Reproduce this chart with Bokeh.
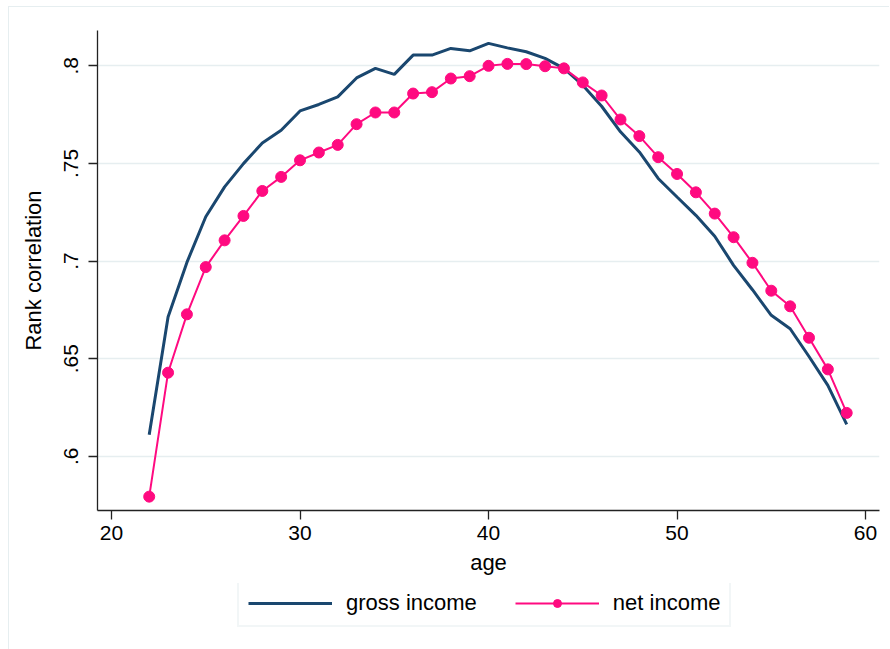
from bokeh.plotting import figure
from bokeh.models import FixedTicker, Legend, LegendItem, Range1d
from bokeh.layouts import column
from bokeh.embed import file_html
from bokeh.resources import INLINE

ages = [22, 23, 24, 25, 26, 27, 28, 29, 30, 31, 32, 33, 34, 35, 36, 37, 38, 39, 40,
        41, 42, 43, 44, 45, 46, 47, 48, 49, 50, 51, 52, 53, 54, 55, 56, 57, 58, 59]
gross_income = [0.6110, 0.6713, 0.6993, 0.7227, 0.7380, 0.7499, 0.7605, 0.7670, 0.7769,
                0.7802, 0.7841, 0.7938, 0.7987, 0.7956, 0.8055, 0.8055, 0.8089, 0.8077,
                0.8115, 0.8092, 0.8072, 0.8038, 0.7987, 0.7901, 0.7793, 0.7662, 0.7559,
                0.7423, 0.7328, 0.7234, 0.7127, 0.6978, 0.6853, 0.6722, 0.6653, 0.6511,
                0.6363, 0.6163]
net_income = [0.5793, 0.6428, 0.6727, 0.6969, 0.7106, 0.7231, 0.7359, 0.7431, 0.7516,
              0.7556, 0.7595, 0.7701, 0.7761, 0.7761, 0.7858, 0.7865, 0.7935, 0.7947,
              0.8000, 0.8010, 0.8009, 0.7998, 0.7987, 0.7915, 0.7848, 0.7725, 0.7640,
              0.7532, 0.7446, 0.7352, 0.7243, 0.7122, 0.6991, 0.6848, 0.6768, 0.6607,
              0.6445, 0.6222]
x_ticks = [20, 30, 40, 50, 60]
y_ticks = [0.6, 0.65, 0.7, 0.75, 0.8]
y_tick_labels = [".6", ".65", ".7", ".75", ".8"]
series_names = ["gross income", "net income"]

NAVY = "#1a476f"
PINK = "#ff0a80"
GRID = "#e6eef0"
AXIS = "#222222"
FONT = "Liberation Sans"

p = figure(width=880, height=576, output_backend="svg", toolbar_location=None,
           x_range=Range1d(19.257, 60.74), y_range=Range1d(0.5722, 0.8181),
           min_border_left=88, min_border_right=10, min_border_top=23, min_border_bottom=73)
p.outline_line_color = None
p.background_fill_color = "white"
p.border_fill_color = "white"

r_gross = p.line(ages, gross_income, line_color=NAVY, line_width=3)
r_net_line = p.line(ages, net_income, line_color=PINK, line_width=2)
r_net_pts = p.scatter(ages, net_income, size=11, fill_color=PINK, line_color=PINK)

p.xgrid.visible = False
p.ygrid.grid_line_color = GRID
p.ygrid.grid_line_width = 1.5
p.ygrid.ticker = FixedTicker(ticks=y_ticks)

p.xaxis.ticker = FixedTicker(ticks=x_ticks)
p.yaxis.ticker = FixedTicker(ticks=y_ticks)
p.yaxis.major_label_overrides = {t: l for t, l in zip(y_ticks, y_tick_labels)}
p.yaxis.major_label_orientation = "vertical"

for ax in (p.xaxis[0], p.yaxis[0]):
    ax.axis_line_color = AXIS
    ax.axis_line_width = 1.3
    ax.major_tick_line_color = AXIS
    ax.major_tick_line_width = 1.3
    ax.major_tick_out = 9
    ax.major_tick_in = 0
    ax.minor_tick_line_color = None
    ax.major_label_text_font = FONT
    ax.major_label_text_font_size = "21px"
    ax.major_label_text_color = "black"
    ax.axis_label_text_font = FONT
    ax.axis_label_text_font_size = "22px"
    ax.axis_label_text_font_style = "normal"
    ax.axis_label_text_color = "black"

p.xaxis.axis_label = "age"
p.yaxis.axis_label = "Rank correlation"
p.xaxis.major_label_standoff = 6
p.xaxis.axis_label_standoff = 7
p.yaxis.major_label_standoff = 10
p.yaxis.axis_label_standoff = 16

# legend strip below the chart (its series lie outside its visible range)
lf = figure(width=880, height=66, output_backend="svg", toolbar_location=None,
            x_axis_type=None, y_axis_type=None, x_range=Range1d(0, 1), y_range=Range1d(0, 1),
            min_border=0)
lf.outline_line_color = None
lf.xgrid.visible = False
lf.ygrid.visible = False
lg_gross = lf.line(ages, gross_income, line_color=NAVY, line_width=3)
lg_net_line = lf.line(ages, net_income, line_color=PINK, line_width=2)
lg_net_pts = lf.scatter(ages, net_income, size=11, fill_color=PINK, line_color=PINK)

legend = Legend(items=[LegendItem(label=series_names[0], renderers=[lg_gross]),
                       LegendItem(label=series_names[1], renderers=[lg_net_line, lg_net_pts])],
                orientation="horizontal", location=(140, 22))
legend.label_text_font = FONT
legend.label_text_font_size = "22px"
legend.label_text_color = "black"
legend.glyph_width = 84
legend.glyph_height = 20
legend.label_standoff = 14
legend.spacing = 38
legend.padding = 9
legend.margin = 0
legend.border_line_color = GRID
legend.border_line_width = 2
legend.background_fill_color = "white"
lf.add_layout(legend)

layout = column(p, lf, spacing=0,
                styles={"margin-left": "8px", "margin-top": "6px",
                        "border-left": "1px solid #e6eef0", "border-top": "1px solid #e6eef0"})

open("out.html", "w").write(file_html(layout, INLINE))
